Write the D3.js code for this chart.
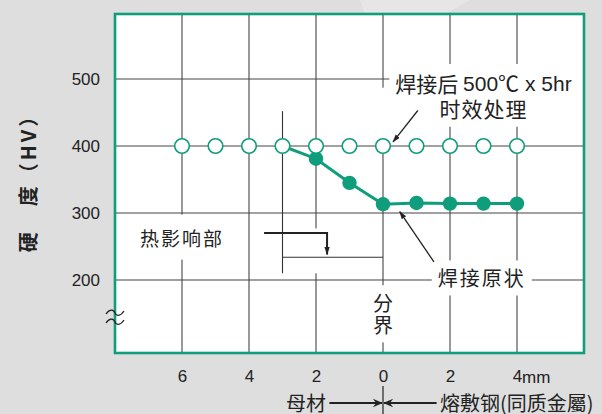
<!DOCTYPE html>
<html>
<head>
<meta charset="utf-8">
<script src="https://cdn.jsdelivr.net/npm/d3@7"></script>
<style>
  body { margin: 0; background: #dedede; }
  svg { display: block; }
  text { font-family: "Liberation Sans", Arial, "Noto Sans CJK SC", sans-serif; fill: #222; }
  .cjk { font-family: "Noto Sans CJK SC", "Noto Sans CJK TC", sans-serif; }
</style>
</head>
<body>
<svg id="chart"></svg>
<script>
// distance from the fusion line in mm (positive = base metal side, left)
const agedPos = [6, 5, 4, 3, 2, 1, 0, -1, -2, -3, -4];
const agedHV = [400, 400, 400, 400, 400, 400, 400, 400, 400, 400, 400];
const weldPos = [3, 2, 1, 0, -1, -2, -3, -4];
const weldHV = [400, 381, 345, 313, 315, 314, 314, 314];
const xTicks = [6, 4, 2, 0, -2, -4];
const yTicks = [200, 300, 400, 500];

const width = 602;
const height = 414;
const green = "#0f9d7b";

const svg = d3.select("#chart")
    .attr("width", width)
    .attr("height", height);

const x = d3.scaleLinear().domain([8, -6]).range([115, 584]);
const y = d3.scaleLinear().domain([91, 597]).range([353, 14]);

// faint highlight in the background, top right
svg.append("polygon")
    .attr("points", "360,0 470,0 395,42 375,42")
    .attr("fill", "#fff")
    .attr("opacity", 0.25);

svg.append("rect")
    .attr("x", x(8)).attr("y", y(597))
    .attr("width", x(-6) - x(8)).attr("height", y(91) - y(597))
    .attr("fill", "#fff");

const grid = svg.append("g");
grid.selectAll(".vg")
    .data(xTicks)
  .enter().append("line")
    .attr("x1", d => x(d)).attr("x2", d => x(d))
    .attr("y1", y(597)).attr("y2", y(91))
    .attr("stroke", "#444").attr("stroke-width", 1.1);
grid.selectAll(".hg")
    .data(yTicks)
  .enter().append("line")
    .attr("x1", x(8)).attr("x2", x(-6))
    .attr("y1", d => y(d)).attr("y2", d => y(d))
    .attr("stroke", "#444").attr("stroke-width", 1.1);

// axis labels
const yAxis = d3.axisLeft(y).tickValues(yTicks).tickSize(0).tickPadding(15);
svg.append("g")
    .attr("transform", `translate(${x(8)},0)`)
    .call(yAxis)
    .call(g => g.select(".domain").remove())
    .call(g => g.selectAll("text").attr("font-size", 17).attr("fill", "#222")
        .style("font-family", "'Liberation Sans', Arial, sans-serif"));

const xAxis = d3.axisBottom(x).tickValues(xTicks).tickSize(0).tickPadding(17)
    .tickFormat(d => Math.abs(d));
svg.append("g")
    .attr("transform", `translate(0,${y(91)})`)
    .call(xAxis)
    .call(g => g.select(".domain").remove())
    .call(g => g.selectAll("text").attr("font-size", 17).attr("fill", "#222")
        .style("font-family", "'Liberation Sans', Arial, sans-serif"));
svg.append("text")
    .attr("x", x(-4) + 5).attr("y", y(91) + 30)
    .attr("font-size", 17)
    .text("mm");

// y title
svg.append("text")
    .attr("class", "cjk")
    .attr("transform", `translate(27,${178}) rotate(-90)`)
    .attr("text-anchor", "middle")
    .attr("dominant-baseline", "central")
    .attr("font-size", 20)
    .attr("font-weight", "bold")
    .attr("letter-spacing", 3)
    .text("硬\u3000度（HV）");

const defs = svg.append("defs");
defs.append("marker")
    .attr("id", "ah")
    .attr("viewBox", "-10 -5 12 10")
    .attr("markerWidth", 9).attr("markerHeight", 8)
    .attr("markerUnits", "userSpaceOnUse")
    .attr("orient", "auto")
    .append("path").attr("d", "M-10,-3.5 L1,0 L-10,3.5 Z").attr("fill", "#222");
defs.append("marker")
    .attr("id", "ah2")
    .attr("viewBox", "-12 -6 14 12")
    .attr("markerWidth", 12).attr("markerHeight", 10)
    .attr("markerUnits", "userSpaceOnUse")
    .attr("orient", "auto")
    .append("path").attr("d", "M-11,-5 L1,0 L-11,5 L-7,0 Z").attr("fill", "#222");

// annotation labels with white backing
const ann = svg.append("g");
const masks = ann.append("g");

function label(xv, yv, str, size, spacing) {
  return ann.append("text")
      .attr("class", "cjk")
      .attr("x", x(xv)).attr("y", y(yv))
      .attr("text-anchor", "middle")
      .attr("dominant-baseline", "central")
      .attr("font-size", size)
      .attr("letter-spacing", spacing || 0)
      .text(str);
}
function mask(b, px, py, extendRight) {
  masks.append("rect")
      .attr("x", b.x - px).attr("y", b.y - py)
      .attr("width", extendRight ? x(-6) - b.x + px : b.width + 2 * px)
      .attr("height", b.height + 2 * py)
      .attr("fill", "#fff");
}

const top1 = ann.append("text")
    .attr("x", x(-3)).attr("y", y(494))
    .attr("text-anchor", "middle")
    .attr("dominant-baseline", "central")
    .attr("font-size", 21);
top1.append("tspan").attr("class", "cjk").text("焊接后 ");
top1.append("tspan").text("500℃ x 5hr");
const top2 = label(-3, 457, "时效处理", 21, 1);
const b1 = top1.node().getBBox();
const b2 = top2.node().getBBox();
mask({x: b1.x, y: b1.y, width: b1.width, height: b2.y + b2.height - b1.y}, 6, 4, true);
// the 0 line stops short of the label down to the circles
masks.append("rect")
    .attr("x", x(0) - 3).attr("y", y(487))
    .attr("width", 6).attr("height", y(410) - y(487))
    .attr("fill", "#fff");

const haz = label(6, 264, "热影响部", 19, 2);
mask(haz.node().getBBox(), 6, 9);
const orig = label(-2.95, 203, "焊接原状", 20, 2);
mask(orig.node().getBBox(), 6, 3);

const bound = ann.append("text")
    .attr("class", "cjk")
    .attr("x", x(0))
    .attr("text-anchor", "middle")
    .attr("font-size", 20);
bound.append("tspan").attr("x", x(0)).attr("y", y(166)).attr("dominant-baseline", "central").text("分");
bound.append("tspan").attr("x", x(0)).attr("y", y(133)).attr("dominant-baseline", "central").text("界");
mask(bound.node().getBBox(), 2, 3);

// mask behind the HAZ arrow
masks.append("rect")
    .attr("x", x(3.6)).attr("y", y(277))
    .attr("width", x(1.2) - x(3.6)).attr("height", y(210) - y(277))
    .attr("fill", "#fff");

// HAZ bracket
ann.append("line")
    .attr("x1", x(3)).attr("x2", x(3))
    .attr("y1", y(452)).attr("y2", y(210))
    .attr("stroke", "#333").attr("stroke-width", 1.1);
ann.append("line")
    .attr("x1", x(3)).attr("x2", x(0))
    .attr("y1", y(234)).attr("y2", y(234))
    .attr("stroke", "#333").attr("stroke-width", 1.1);
ann.append("path")
    .attr("d", `M${x(3.55)},${y(270)} H${x(1.67)} V${y(238)}`)
    .attr("fill", "none").attr("stroke", "#222").attr("stroke-width", 2)
    .attr("marker-end", "url(#ah)");

// pointer arrows
ann.append("line")
    .attr("x1", x(-1.04)).attr("y1", y(453))
    .attr("x2", x(-0.3)).attr("y2", y(406))
    .attr("stroke", "#222").attr("stroke-width", 1.3)
    .attr("marker-end", "url(#ah)");
ann.append("line")
    .attr("x1", x(-1.52)).attr("y1", y(227))
    .attr("x2", x(-0.5)).attr("y2", y(302))
    .attr("stroke", "#222").attr("stroke-width", 1.3)
    .attr("marker-end", "url(#ah)");

// series
const line = d3.line().x(d => x(d[0])).y(d => y(d[1]));
svg.append("path")
    .datum(d3.zip(weldPos, weldHV))
    .attr("d", line)
    .attr("fill", "none")
    .attr("stroke", green)
    .attr("stroke-width", 3);

svg.selectAll(".weld")
    .data(d3.zip(weldPos, weldHV).filter(d => d[1] < 400))
  .enter().append("circle")
    .attr("cx", d => x(d[0])).attr("cy", d => y(d[1]))
    .attr("r", 7.2)
    .attr("fill", green);

svg.selectAll(".aged")
    .data(d3.zip(agedPos, agedHV))
  .enter().append("circle")
    .attr("cx", d => x(d[0])).attr("cy", d => y(d[1]))
    .attr("r", 7.3)
    .attr("fill", "#fff")
    .attr("stroke", green)
    .attr("stroke-width", 1.6);

// frame
svg.append("rect")
    .attr("x", x(8)).attr("y", y(597))
    .attr("width", x(-6) - x(8)).attr("height", y(91) - y(597))
    .attr("fill", "none")
    .attr("stroke", green)
    .attr("stroke-width", 2.6);

// axis break mark
const bx = x(8);
[313, 322].forEach(by => {
  svg.append("path")
      .attr("d", `M${bx - 9},${by + 1} C${bx - 5},${by - 5} ${bx - 1},${by - 3} ${bx},${by} S${bx + 5},${by + 4} ${bx + 9},${by - 2}`)
      .attr("fill", "none").attr("stroke", "#222").attr("stroke-width", 1.3);
});

// region labels under the axis
const yb = 402;
svg.append("text")
    .attr("class", "cjk")
    .attr("x", x(1.7)).attr("y", yb)
    .attr("text-anchor", "end")
    .attr("dominant-baseline", "central")
    .attr("font-size", 20)
    .text("母材");
svg.append("text")
    .attr("class", "cjk")
    .attr("x", x(-1.7)).attr("y", yb)
    .attr("text-anchor", "start")
    .attr("dominant-baseline", "central")
    .attr("font-size", 20)
    .text("熔敷钢(同质金屬)");
svg.append("line")
    .attr("x1", x(1.6)).attr("x2", x(0) - 1)
    .attr("y1", yb + 1).attr("y2", yb + 1)
    .attr("stroke", "#222").attr("stroke-width", 2)
    .attr("marker-end", "url(#ah2)");
svg.append("line")
    .attr("x1", x(-1.6)).attr("x2", x(0) + 1)
    .attr("y1", yb + 1).attr("y2", yb + 1)
    .attr("stroke", "#222").attr("stroke-width", 2)
    .attr("marker-end", "url(#ah2)");
svg.append("line")
    .attr("x1", x(0)).attr("x2", x(0))
    .attr("y1", 386).attr("y2", height)
    .attr("stroke", "#222").attr("stroke-width", 1.2);
</script>
</body>
</html>
